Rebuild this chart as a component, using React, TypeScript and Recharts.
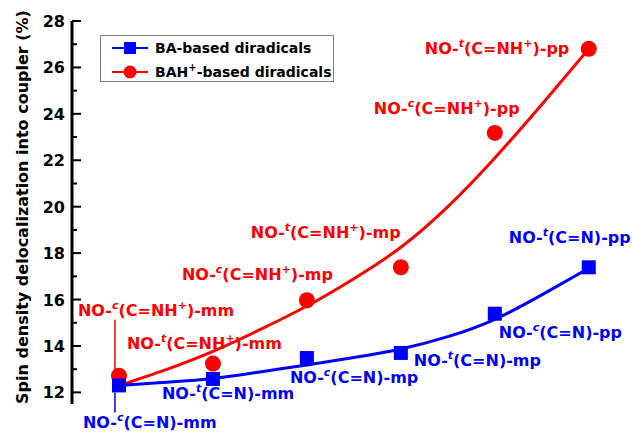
import React from "react";
import {
  ComposedChart,
  Line,
  Scatter,
  XAxis,
  YAxis,
  Legend,
} from "recharts";

// x positions 1..6 correspond to the six linkage isomers
const isomers = ["c", "t", "c", "t", "c", "t"];
const linkages = ["mm", "mm", "mp", "mp", "pp", "pp"];
const positions = [1, 2, 3, 4, 5, 6];

// spin density delocalization (%)
const baValues = [12.3, 12.58, 13.48, 13.7, 15.39, 17.39];
const bahValues = [12.72, 13.24, 15.97, 17.39, 23.18, 26.8];

// fitted curves
const fitX = [1, 1.5, 2, 2.5, 3, 3.5, 4, 4.5, 5, 5.5, 6];
const baFit = [12.3, 12.44, 12.6, 12.88, 13.18, 13.5, 13.87, 14.4, 15.15, 16.2, 17.35];
const bahFit = [12.29, 12.98, 13.77, 14.7, 15.72, 16.9, 18.25, 20.0, 22.1, 24.4, 26.8];

const yTicks = [12, 13, 14, 15, 16, 17, 18, 19, 20, 21, 22, 23, 24, 25, 26, 27, 28];

const FONT = "'DejaVu Sans', sans-serif";
const RED = "#ff0000";
const BLUE = "#0000ff";

// label placement relative to each marker (dx, dy to text baseline start)
const redLabelOffsets = [[-41, -60], [-86, -15], [-125, -20], [-150, -29], [-121, -19], [-164, 5]];
const blueLabelOffsets = [[-36, 43], [-51, 20], [-17, 25], [13, 13], [4, 24], [-80, -24]];

const baPoints = positions.map((x, i) => ({ x, y: baValues[i], iso: isomers[i], link: linkages[i], i }));
const bahPoints = positions.map((x, i) => ({ x, y: bahValues[i], iso: isomers[i], link: linkages[i], i }));
const baFitData = fitX.map((x, i) => ({ x, y: baFit[i] }));
const bahFitData = fitX.map((x, i) => ({ x, y: bahFit[i] }));

const IsomerLabel = ({ x, y, iso, link, ion, color }: any) => (
  <text x={x} y={y} fill={color} fontFamily={FONT} fontWeight="bold" fontSize={16}>
    NO-
    <tspan dy={-7} fontSize={11} fontStyle="italic">{iso}</tspan>
    {ion ? (
      <>
        <tspan dy={7}>(C=NH</tspan>
        <tspan dy={-7} fontSize={11}>+</tspan>
        <tspan dy={7}>{")-" + link}</tspan>
      </>
    ) : (
      <tspan dy={7}>{"(C=N)-" + link}</tspan>
    )}
  </text>
);

const renderBah = (props: any) => {
  const { cx, cy, payload } = props;
  const [dx, dy] = redLabelOffsets[payload.i];
  return (
    <g>
      {payload.i === 0 && <line x1={cx - 4} y1={cy - 56} x2={cx - 4} y2={cy - 4} stroke={RED} strokeWidth={1.5} />}
      <circle cx={cx} cy={cy} r={8} fill={RED} />
      <IsomerLabel x={cx + dx} y={cy + dy} iso={payload.iso} link={payload.link} ion color={RED} />
    </g>
  );
};

const renderBa = (props: any) => {
  const { cx, cy, payload } = props;
  const [dx, dy] = blueLabelOffsets[payload.i];
  return (
    <g>
      {payload.i === 0 && <line x1={cx - 4} y1={cy + 7} x2={cx - 4} y2={cy + 27} stroke={BLUE} strokeWidth={1.5} />}
      <rect x={cx - 7} y={cy - 7} width={14} height={14} fill={BLUE} />
      <IsomerLabel x={cx + dx} y={cy + dy} iso={payload.iso} link={payload.link} color={BLUE} />
    </g>
  );
};

const YTick = (props: any) => {
  const { x, y, payload } = props;
  const major = payload.value % 2 === 0;
  return (
    <g>
      <line x1={x} y1={y} x2={x + (major ? 9 : 5)} y2={y} stroke="#000" strokeWidth={2} />
      {major && (
        <text x={x - 7} y={y} dy={6} textAnchor="end" fontFamily={FONT} fontWeight="bold" fontSize={16} fill="#000">
          {payload.value}
        </text>
      )}
    </g>
  );
};

const LegendBox = () => (
  <svg width={234} height={47}>
    <rect x={0.5} y={0.5} width={233} height={46} fill="#fff" stroke="#808080" strokeWidth={1} />
    <line x1={12} y1={13} x2={48} y2={13} stroke={BLUE} strokeWidth={2} />
    <rect x={24} y={7} width={12} height={12} fill={BLUE} />
    <text x={55} y={18} fontFamily={FONT} fontWeight="bold" fontSize={14}>BA-based diradicals</text>
    <line x1={12} y1={37} x2={48} y2={37} stroke={RED} strokeWidth={2} />
    <circle cx={30} cy={37} r={6.5} fill={RED} />
    <text x={55} y={42} fontFamily={FONT} fontWeight="bold" fontSize={14}>
      BAH<tspan dy={-6} fontSize={10}>+</tspan><tspan dy={6}>-based diradicals</tspan>
    </text>
  </svg>
);

export default function App() {
  return (
    <div style={{ position: "absolute", left: 0, top: 0, width: 632, height: 432, background: "#fff" }}>
      <ComposedChart width={632} height={432} margin={{ top: 21, right: 0, bottom: 28, left: 0 }}>
        <XAxis
          type="number"
          dataKey="x"
          domain={[0.5, 6.46]}
          ticks={[]}
          tick={false}
          tickLine={false}
          height={0}
          axisLine={{ stroke: "#000", strokeWidth: 3 }}
        />
        <XAxis
          xAxisId="top"
          orientation="top"
          type="number"
          dataKey="x"
          domain={[0.5, 6.46]}
          ticks={[]}
          tick={false}
          tickLine={false}
          height={0}
          axisLine={{ stroke: "#000", strokeWidth: 3 }}
        />
        <YAxis
          type="number"
          dataKey="y"
          domain={[11.5, 28]}
          ticks={yTicks}
          interval={0}
          tick={<YTick />}
          tickLine={false}
          tickSize={0}
          tickMargin={0}
          width={72}
          axisLine={{ stroke: "#000", strokeWidth: 3 }}
          label={{
            content: () => (
              <text
                x={22}
                y={207}
                transform="rotate(-90 22 207)"
                textAnchor="middle"
                dominantBaseline="central"
                fontFamily={FONT}
                fontWeight="bold"
                fontSize={16}
                fill="#000"
              >
                Spin density delocalization into coupler (%)
              </text>
            ),
          }}
        />
        <YAxis
          yAxisId="right"
          orientation="right"
          type="number"
          dataKey="y"
          domain={[11.5, 28]}
          ticks={[]}
          tick={false}
          tickLine={false}
          width={0}
          axisLine={{ stroke: "#9a9a9a", strokeWidth: 1 }}
        />
        <Legend
          layout="horizontal"
          verticalAlign="middle"
          align="center"
          wrapperStyle={{ left: 100, top: 35, width: 234, height: 47 }}
          content={() => <LegendBox />}
        />
        <Line data={bahFitData} dataKey="y" type="natural" stroke={RED} strokeWidth={3} dot={false} isAnimationActive={false} />
        <Line data={baFitData} dataKey="y" type="natural" stroke={BLUE} strokeWidth={3} dot={false} isAnimationActive={false} />
        <Scatter data={bahPoints} dataKey="y" shape={renderBah} isAnimationActive={false} />
        <Scatter data={baPoints} dataKey="y" shape={renderBa} isAnimationActive={false} />
      </ComposedChart>
    </div>
  );
}
